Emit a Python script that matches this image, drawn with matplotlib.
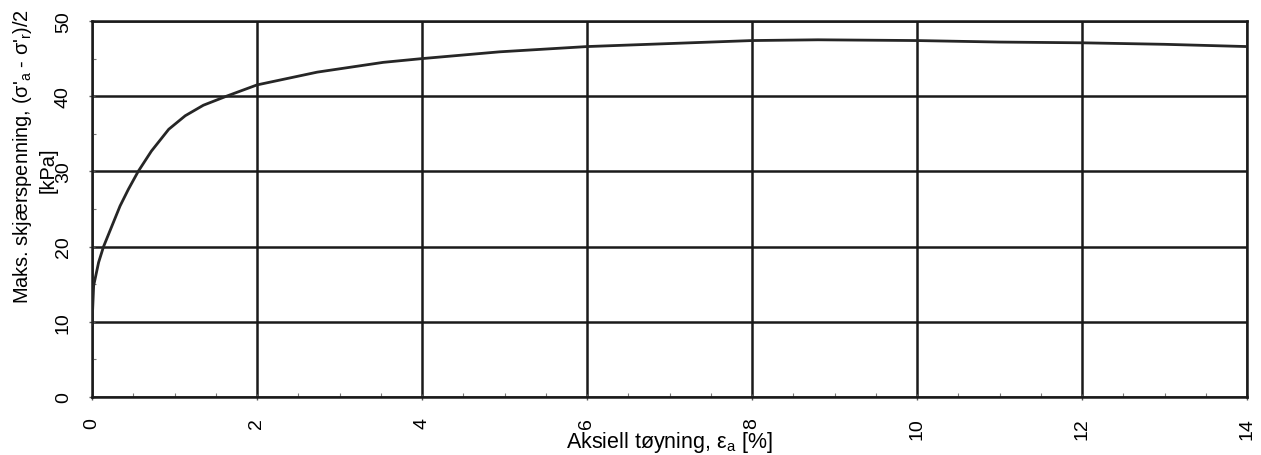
import matplotlib

matplotlib.use("Agg")
import matplotlib.pyplot as plt
from matplotlib.ticker import MultipleLocator

# axial strain [%] and max shear stress [kPa]
strain = [0.0, 0.02, 0.08, 0.14, 0.24, 0.34, 0.44, 0.56, 0.72, 0.93, 1.13,
          1.35, 1.63, 2.0, 2.73, 3.53, 4.0, 4.94, 6.0, 7.0, 8.0, 8.8, 10.0,
          11.0, 12.0, 13.0, 14.0]
shear = [9.6, 14.8, 17.9, 20.0, 22.7, 25.4, 27.6, 30.0, 32.7, 35.6, 37.4,
         38.8, 40.0, 41.5, 43.2, 44.5, 45.0, 45.9, 46.6, 47.0, 47.4, 47.5, 47.4,
         47.2, 47.1, 46.9, 46.6]

x_ticks = [0, 2, 4, 6, 8, 10, 12, 14]
y_ticks = [0, 10, 20, 30, 40, 50]

plt.rcParams["font.family"] = ["Liberation Sans", "DejaVu Sans"]
plt.rcParams["mathtext.fontset"] = "custom"
plt.rcParams["mathtext.rm"] = "Liberation Sans"

fig = plt.figure(figsize=(12.61, 4.56), dpi=100)
ax = fig.add_axes([92 / 1261, 1 - 398 / 456, 1155 / 1261, 376 / 456])

ax.plot(strain, shear, color="#262626", lw=2, zorder=3)

ax.set_xlim(0, 14)
ax.set_ylim(0, 50)
ax.set_xticks(x_ticks)
ax.set_yticks(y_ticks)
ax.xaxis.set_minor_locator(MultipleLocator(0.5))
ax.yaxis.set_minor_locator(MultipleLocator(5))
ax.grid(True, which="major", color="#1a1a1a", lw=1.8)
for s in ax.spines.values():
    s.set_color("#1a1a1a")
    s.set_linewidth(1.8)

ax.tick_params(which="major", direction="inout", length=5, width=1, color="#555555",
               labelsize=14)
ax.tick_params(which="minor", direction="in", length=3, width=0.8, color="#777777")
ax.tick_params(axis="x", labelrotation=90, pad=12)
ax.tick_params(axis="y", labelrotation=90, pad=12)
for lbl in ax.get_yticklabels():
    lbl.set_va("center")

ax.set_xlabel(r"Aksiell tøyning, ε$_\mathrm{a}$ [%]", fontsize=15.5)
ax.xaxis.set_label_coords(0.5, -0.085)

fig.text(23 / 1261, 1 - 156 / 456,
         r"Maks. skjærspenning, (σ'$_\mathrm{a}$ - σ'$_\mathrm{r}$)/2",
         rotation=90, ha="center", va="center", fontsize=14.4)
fig.text(48 / 1261, 1 - 170 / 456, "[kPa]", rotation=90, ha="center",
         va="center", fontsize=14.4)

fig.savefig("out.png", dpi=100)
